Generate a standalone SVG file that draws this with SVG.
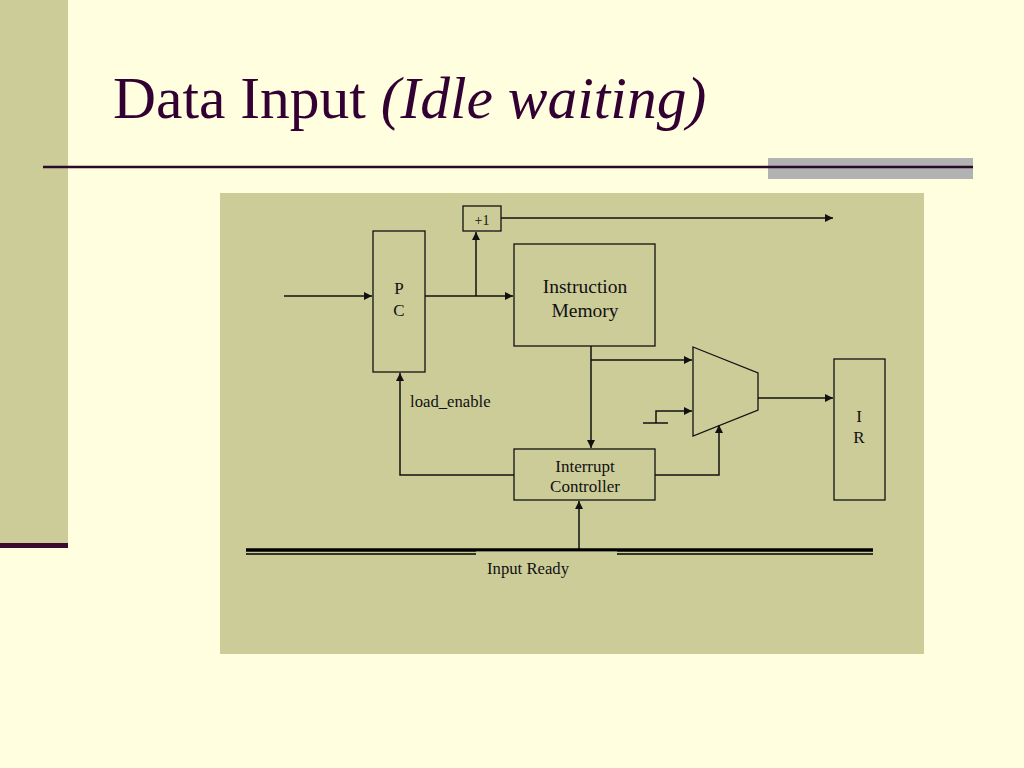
<svg xmlns="http://www.w3.org/2000/svg" width="1024" height="768" viewBox="0 0 1024 768">
<defs>
<marker id="ah" viewBox="0 0 10 10" refX="10" refY="5" markerWidth="8" markerHeight="8" markerUnits="userSpaceOnUse" orient="auto">
<path d="M0,0 L10,5 L0,10 z" fill="#111"/>
</marker>
<style>
.box{fill:none;stroke:#111;stroke-width:1.3}
.ln{fill:none;stroke:#111;stroke-width:1.5}
.ar{fill:none;stroke:#111;stroke-width:1.5;marker-end:url(#ah)}
.t{font-family:"Liberation Serif","Times New Roman",serif;fill:#111;text-anchor:middle}
.ts{font-family:"Liberation Serif","Times New Roman",serif;fill:#111;text-anchor:start}
</style>
</defs>
<rect width="1024" height="768" fill="#FFFEDE"/>
<rect x="0" y="0" width="68" height="543" fill="#CCCC99"/>
<rect x="0" y="543" width="68" height="5" fill="#3A0A30"/>
<rect x="768" y="158" width="205" height="21" fill="#B2B2B2"/>
<line x1="43" y1="167" x2="973" y2="167" stroke="#2A0A2A" stroke-width="2.5"/>
<text x="113" y="118" font-family="'Liberation Serif','Times New Roman',serif" font-size="59.5" fill="#330033">Data Input <tspan font-style="italic">(Idle waiting)</tspan></text>
<rect x="220" y="193" width="704" height="461" fill="#CCCC99"/>

<g id="connectors">
<polyline class="ar" points="501,218 833,218"/>
<polyline class="ar" points="284,296 372,296"/>
<polyline class="ar" points="425,296 513,296"/>
<polyline class="ar" points="476,296 476,232"/>
<polyline class="ar" points="591,346 591,448"/>
<polyline class="ar" points="591,360 692,360"/>
<polyline class="ln" points="643,423 668,423"/>
<polyline class="ar" points="656,423 656,411 692,411"/>
<polyline class="ar" points="758,398 833,398"/>
<polyline class="ar" points="655,475 719,475 719,425"/>
<polyline class="ar" points="514,475 400,475 400,373"/>
<polyline class="ar" points="579,549 579,501"/>
<line x1="246" y1="550" x2="873" y2="550" stroke="#000" stroke-width="3.5"/>
<line x1="246" y1="554" x2="476" y2="554" stroke="#000" stroke-width="1.5"/>
<line x1="617" y1="554" x2="873" y2="554" stroke="#000" stroke-width="1.5"/>
<rect x="476" y="551.5" width="141" height="4" fill="#CCCC99"/>
<text class="ts" x="410" y="407" font-size="16.7">load_enable</text>
<text class="t" x="528" y="574" font-size="16.7">Input Ready</text>
</g>

<g id="plus1">
<rect class="box" x="463" y="206" width="38" height="25"/>
<text class="t" x="482" y="225" font-size="14">+1</text>
</g>
<g id="pc">
<rect class="box" x="373" y="231" width="52" height="141"/>
<text class="t" x="399" y="294" font-size="17">P</text>
<text class="t" x="399" y="316" font-size="17">C</text>
</g>
<g id="imem">
<rect class="box" x="514" y="244" width="141" height="102"/>
<text class="t" x="585" y="293" font-size="19.5">Instruction</text>
<text class="t" x="585" y="317" font-size="19.5">Memory</text>
</g>
<g id="mux">
<polygon class="box" points="693,347 758,373 758,410 693,436"/>
</g>
<g id="ir">
<rect class="box" x="834" y="359" width="51" height="141"/>
<text class="t" x="859" y="422" font-size="17">I</text>
<text class="t" x="859" y="443" font-size="17">R</text>
</g>
<g id="intctrl">
<rect class="box" x="514" y="449" width="141" height="51"/>
<text class="t" x="585" y="472" font-size="17">Interrupt</text>
<text class="t" x="585" y="492" font-size="17">Controller</text>
</g>
</svg>
